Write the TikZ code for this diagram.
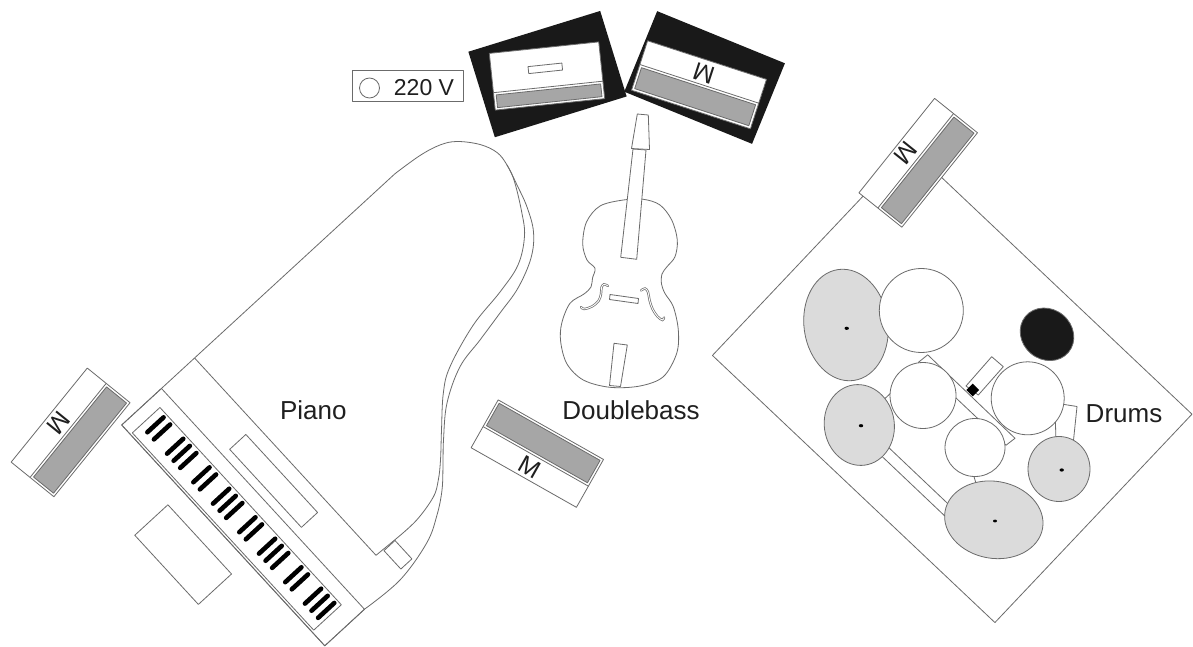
\documentclass[tikz,border=0pt]{standalone}
\usepackage{fontspec}
\setmainfont{Liberation Sans}
\definecolor{ln}{gray}{0.42}
\definecolor{wgray}{gray}{0.65}
\definecolor{cgray}{gray}{0.86}
\definecolor{ampblk}{gray}{0.1}
\definecolor{txt}{gray}{0.12}
\newcommand\wedgeshape{%
  \draw[ol, fill=white] (-60.5,-27.5) rectangle (60.5,27.5);
  \draw[ol] (-60.5,3.2) -- (60.5,3.2);
  \draw[ol, fill=wgray] (-58,-25) rectangle (58,0.7);
  \node[mtext] at (0,15.5) {M};
}
\begin{document}
\begin{tikzpicture}[x=1pt,y=-1pt,
  ol/.style={draw=ln, line width=0.8pt, line join=round},
  keyline/.style={draw=black, line width=4.6pt, line cap=round},
  lbl/.style={font=\fontsize{26}{30}\selectfont, text=txt, inner sep=0pt},
  mtext/.style={font=\fontsize{25}{28}\selectfont, text=txt, inner sep=0pt, transform shape},
  fhole/.style={draw=ln, line width=0.7pt, double=white, double distance=0.9pt, line cap=round},
]
\useasboundingbox (0,0) rectangle (1193,647);
\fill[white] (0,0) rectangle (1193,647);

% ================= DRUMS =================
\begin{scope}[shift={(952.2,384.8)}, rotate=-43.4]
  \draw[ol, fill=white] (-194.4,-143.4) rectangle (194.4,143.4);
\end{scope}
% hardware behind the drums
\draw[ol, fill=white] (918.3,362.4) -- (927.7,354.8) -- (1015,438.3) -- (1006,445.2) -- cycle;
\draw[ol, fill=white] (874.2,449) -- (881.8,441) -- (959.8,515) -- (952.2,523) -- cycle;
\draw[ol] (878,405) -- (893,391);
\draw[ol] (972,470) -- (978,490);
\draw[ol, fill=white] (1055,403) -- (1077,406.5) -- (1073,445) -- (1056,445) -- cycle;
\draw[ol, fill=white] (966,386) -- (991.7,356.7) -- (1003.3,366.7) -- (978.3,395) -- cycle;
\fill[black] (972.7,383.7) -- (979,390) -- (972.7,396.3) -- (966.4,390) -- cycle;
% drums and cymbals
\draw[ol, fill=cgray, rotate around={8:(846,325)}] (846,325) ellipse [x radius=42, y radius=56];
\draw[ol, fill=white] (921.3,310.5) circle [radius=42];
\draw[ol, fill=ampblk, rotate around={-40:(1047,334.3)}] (1047,334.3) ellipse [x radius=28, y radius=25];
\draw[ol, fill=white] (923,395.5) circle [radius=33];
\draw[ol, fill=white] (1027.7,398.3) circle [radius=36.5];
\draw[ol, fill=white] (975,447.5) ellipse [x radius=30, y radius=29];
\draw[ol, fill=cgray, rotate around={8:(859.3,425)}] (859.3,425) ellipse [x radius=35, y radius=40.5];
\draw[ol, fill=cgray] (1059,469) ellipse [x radius=31, y radius=32.5];
\draw[ol, fill=cgray, rotate around={-10:(993.8,519.8)}] (993.8,519.8) ellipse [x radius=49.5, y radius=38.5];
\fill[black] (846.7,328.3) ellipse [x radius=2.2, y radius=1.6];
\fill[black] (861,425.7) ellipse [x radius=2.2, y radius=1.6];
\fill[black] (1061.7,470) ellipse [x radius=2.2, y radius=1.6];
\fill[black] (995,521) ellipse [x radius=2, y radius=1.4];
\node[lbl] (drums) at (1124,414) {Drums};
% drum monitor
\begin{scope}[shift={(918.2,162.8)}, rotate=-128.7] \wedgeshape \end{scope}

% ================= AMPS =================
\begin{scope}[shift={(547.5,74.1)}, rotate=17.2]
  \fill[ampblk] (-69,-44.75) rectangle (69,44.75);
\end{scope}
\begin{scope}[shift={(547,76)}, rotate=6]
  \draw[ol, fill=white] (-55,-28.5) rectangle (55,28.5);
  \draw[ol] (-55,11) -- (55,11);
  \draw[ol, fill=wgray] (-52.5,13.5) rectangle (52.5,26.3);
  \draw[ol, fill=white] (-17.9,-11.3) rectangle (16.1,-4.3);
\end{scope}
\begin{scope}[shift={(704.6,77.5)}, rotate=-22.2]
  \fill[ampblk] (-69,-43.5) rectangle (69,43.5);
\end{scope}
\begin{scope}[shift={(699,84.8)}, rotate=-18]
  \draw[ol, fill=white] (-62.5,-26) rectangle (62.5,26);
  \draw[ol] (-62.5,-1) -- (62.5,-1);
  \draw[ol, fill=wgray] (-60,1.5) rectangle (60,23.5);
  \node[mtext, rotate=180] at (1,-12.5) {M};
\end{scope}
% 220 V
\draw[ol, fill=white] (352.7,70.7) rectangle (463.3,101.7);
\draw[ol] (369.5,88) circle [radius=10];
\node[font=\fontsize{23}{26}\selectfont, text=txt, inner sep=0pt] (volt) at (424,87.5) {220 V};

% ================= DOUBLEBASS =================
\draw[ol, fill=white] plot[smooth cycle, tension=0.55] coordinates {
(623.3,200) (600,206) (586.5,222) (582.7,244) (587,260) (595,268.3) (592.5,278) (591,287)
(584,294) (570,303.3) (561.7,323.3) (560.7,342) (567,364) (583.3,380) (610,387.3) (640,386)
(663.3,376.7) (676.7,353.3) (678.3,330) (673.3,306.7) (665,293.5) (661.5,284) (662,274)
(667,266.7) (675,256.7) (677.3,240) (671.7,220) (660,205) (643.3,199.3)};
\draw[ol, fill=white] (633,149) -- (646,150) -- (636.7,259.3) -- (620.7,257.3) -- cycle;
\draw[ol, fill=white] (637.3,114) -- (648.3,115) -- (649.5,149.5) -- (631.5,148.5) -- cycle;
\draw[ol, fill=white] (610,294.5) -- (638.5,298.5) -- (638,303.5) -- (609.5,299.5) -- cycle;
\draw[ol, fill=white] (614,343.3) -- (627.3,345) -- (620.5,386.5) -- (609.5,385.5) -- cycle;
\draw[fhole] plot[smooth, tension=0.6] coordinates {(608,286) (604,284.3) (601.5,287.5) (601,294) (598.5,301) (592,306.5) (584,309) (581,307)};
\draw[fhole] plot[smooth, tension=0.6] coordinates {(641,290.5) (645,288.5) (648,292) (649.5,300) (652.5,309) (657.5,316.5) (662.5,320) (664,317.5)};
\node[lbl] (bass) at (631,410) {Doublebass};
\begin{scope}[shift={(537.3,453.6)}, rotate=-29.5] \wedgeshape \end{scope}

% ================= PIANO =================
\begin{scope}[shift={(121.7,425)}, rotate=-47.4]
  \draw[ol] (0,0) rectangle (300,-54);
  \draw[ol] (13,-2.5) rectangle (281,-40);
  \draw[ol] (91,-63) rectangle (197,-85);
  \draw[ol] (270,-108) rectangle (295,-123);
  \draw[ol] (90,20) rectangle (184,65);
  \draw[ol] (0,-99) -- (268,-99);
  \foreach \k in {1,2,4,5,6,8,9,11,12,13,15,16,18,19,20,22,23,25,26,27}
    \draw[keyline] ({13+\k*9.7},-14) -- ({13+\k*9.7},-36);
\end{scope}
\draw[ol] (364.5,609.2) -- (324.8,645.8) -- (121.7,425) -- (395,173.7);
\draw[ol] plot[smooth, tension=0.6] coordinates {(395,173.7) (420,155.5) (440,145) (457,141.5)
(480,144.5) (497,152.5) (507,165) (517,185) (527,207) (533.5,232) (531,258) (518,288) (500,313)
(480,340) (460,366.7) (447,403) (443.5,440) (443,465) (442,490) (437,515) (426.7,543) (400,580) (364.5,609.2)};
\draw[ol] plot[smooth, tension=0.6] coordinates {(507,165) (514,180) (521.5,211) (524.5,236)
(518,265) (500,292) (473.3,325) (450,366.7) (443.3,393.3) (441.5,430) (440.5,460) (438.3,480)
(433.3,497) (416.7,520) (396.7,538.3)} -- (376,555.3);
\node[lbl] (piano) at (313.3,410) {Piano};
\begin{scope}[shift={(70.6,432.4)}, rotate=-129] \wedgeshape \end{scope}
\end{tikzpicture}
\end{document}
